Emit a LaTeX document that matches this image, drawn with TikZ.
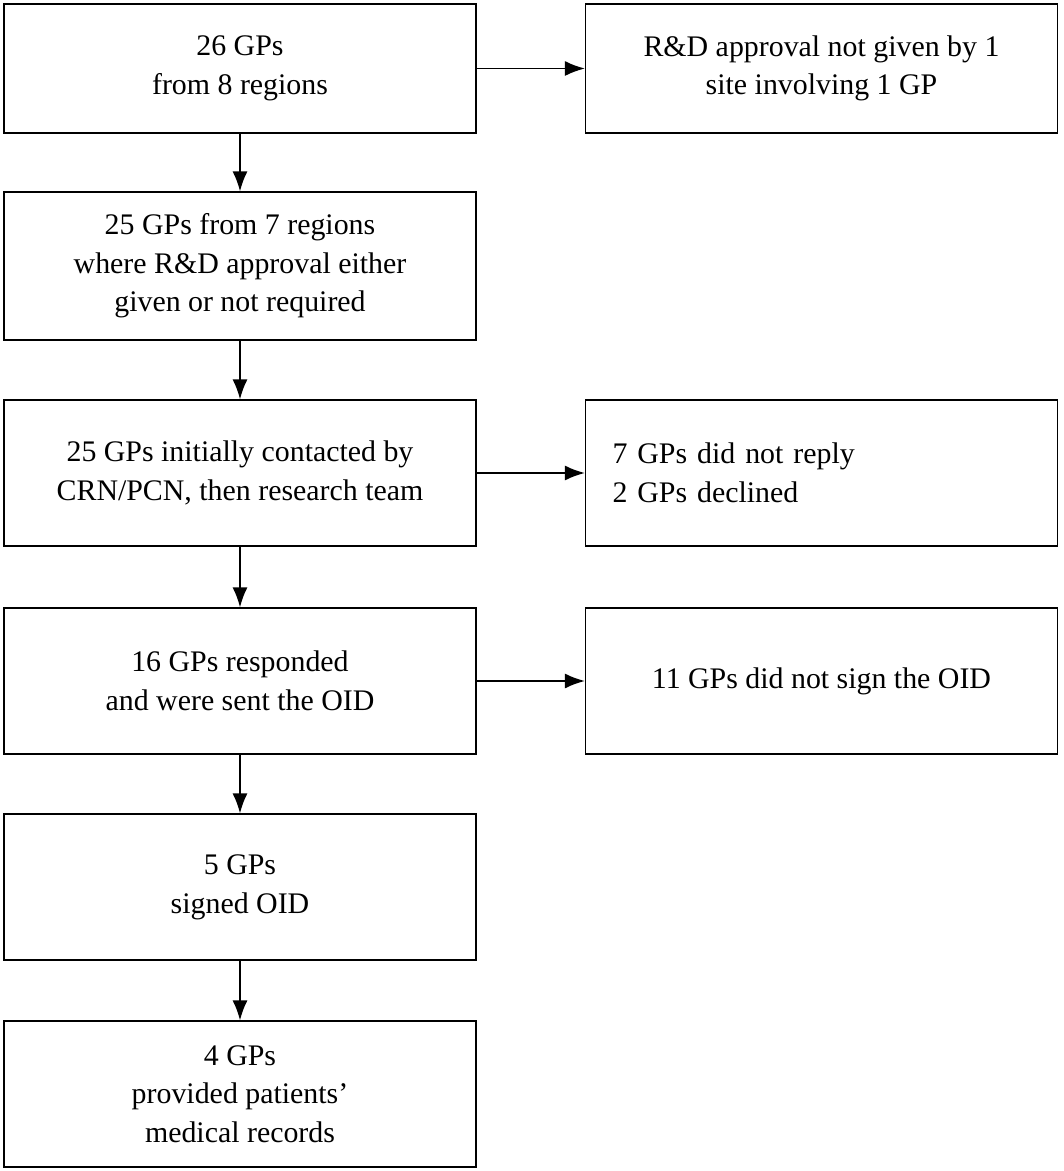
\documentclass[tikz,border=0pt]{standalone}
\usepackage{fontspec}
\setmainfont{Liberation Serif}
\usetikzlibrary{arrows.meta}
\begin{document}
\begin{tikzpicture}
    \tikzset{stage/.style = {shape=rectangle, draw, line width=0.6pt, minimum width=9.44cm, align=center,
        font=\fontsize{17}{22}\selectfont}}
    \tikzset{flow/.style = {draw, line width=1.1pt, -{Latex[length=4mm,width=3mm]}}}
    \useasboundingbox (0,0) rectangle (21.26,-23.42);

    % main column
    \node[stage, minimum height=2.58cm] (gps) at (4.8,-1.37) {26 GPs\\from 8 regions};
    \node[stage, minimum height=2.96cm] (approved) at (4.8,-5.32) {25 GPs from 7 regions\\where R\&D approval either\\given or not required};
    \node[stage, minimum height=2.92cm] (contacted) at (4.8,-9.46) {25 GPs initially contacted by\\CRN/PCN, then research team};
    \node[stage, minimum height=2.92cm] (responded) at (4.8,-13.62) {16 GPs responded\\and were sent the OID};
    \node[stage, minimum height=2.92cm] (signed) at (4.8,-17.74) {5 GPs\\signed OID};
    \node[stage, minimum height=2.92cm] (records) at (4.8,-21.88) {4 GPs\\provided patients'\\medical records};

    % side column
    \node[stage, minimum height=2.58cm] (noapproval) at (16.43,-1.37) {R\&D approval not given by 1\\site involving 1 GP};
    \node[stage, minimum height=2.92cm, align=left, text width=8.36cm, inner sep=0.54cm] (noreply) at (16.43,-9.46) {7 GPs did not reply\\2 GPs declined};
    \node[stage, minimum height=2.92cm] (nosign) at (16.43,-13.62) {11 GPs did not sign the OID};

    % arrows
    \draw [flow] (gps) -- (approved);
    \draw [flow] (approved) -- (contacted);
    \draw [flow] (contacted) -- (responded);
    \draw [flow] (responded) -- (signed);
    \draw [flow] (signed) -- (records);
    \draw [flow] (gps) -- (noapproval);
    \draw [flow] (contacted) -- (noreply);
    \draw [flow] (responded) -- (nosign);
\end{tikzpicture}
\end{document}
